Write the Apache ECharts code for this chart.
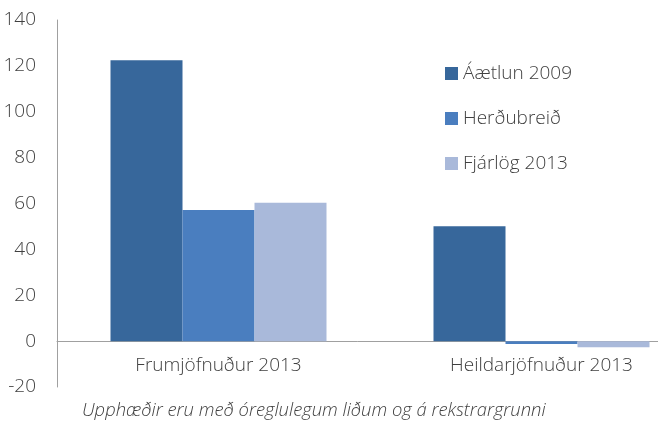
<!DOCTYPE html>
<html>
<head>
<meta charset="utf-8">
<script src="https://cdn.jsdelivr.net/npm/echarts@6/dist/echarts.min.js"></script>
<style>
  html, body { margin: 0; padding: 0; background: #fff; }
  #chart { width: 658px; height: 421px; }
</style>
</head>
<body>
<div id="chart"></div>
<script>
// gögn
const categories = ['Frumjöfnuður 2013', 'Heildarjöfnuður 2013'];
const seriesNames = ['Áætlun 2009', 'Herðubreið', 'Fjárlög 2013'];
const aaetlun = [122.5, 50.1];
const herdubreid = [57.2, -1.2];
const fjarlog = [60.3, -2.7];
const colors = ['#37679B', '#4A7EBF', '#A9B9DA'];
const footNote = 'Upphæðir eru með óreglulegum liðum og á rekstrargrunni';

const font = '"Open Sans", Lato, sans-serif';
const values = [aaetlun, herdubreid, fjarlog];

let chart = echarts.init(document.getElementById('chart'));
chart.setOption({
    animation: false,
    textStyle: { fontFamily: font, fontWeight: 300 },
    title: {
        text: footNote,
        left: 77,
        top: 397,
        textStyle: { fontSize: 18.4, fontStyle: 'italic', fontWeight: 300, color: '#404040', fontFamily: font }
    },
    legend: {
        orient: 'vertical',
        left: 440,
        top: 59,
        itemWidth: 13,
        itemHeight: 13,
        itemGap: 26,
        icon: 'rect',
        textStyle: { fontSize: 19, color: '#404040', fontWeight: 300, fontFamily: font },
        data: seriesNames
    },
    grid: { left: 57, top: 20, width: 646, height: 367, containLabel: false, outerBoundsMode: 'none' },
    xAxis: {
        type: 'category',
        data: categories,
        axisLine: { onZero: true, lineStyle: { color: '#A0A0A0', width: 1 } },
        axisTick: { show: false },
        // etiketturnar eru neðst í grind, færðar upp að núlllínu
        axisLabel: { fontSize: 19, color: '#404040', fontWeight: 300, margin: -31 }
    },
    yAxis: {
        type: 'value',
        min: -20,
        max: 140,
        interval: 20,
        axisLine: { show: true, lineStyle: { color: '#A0A0A0', width: 1 } },
        axisTick: { show: false },
        splitLine: { show: false },
        axisLabel: { fontSize: 19, color: '#404040', fontWeight: 300, margin: 21 }
    },
    series: seriesNames.map((name, i) => ({
        name: name,
        type: 'bar',
        data: values[i],
        barWidth: 72,
        barGap: '0%',
        itemStyle: { color: colors[i] }
    }))
});
</script>
</body>
</html>
